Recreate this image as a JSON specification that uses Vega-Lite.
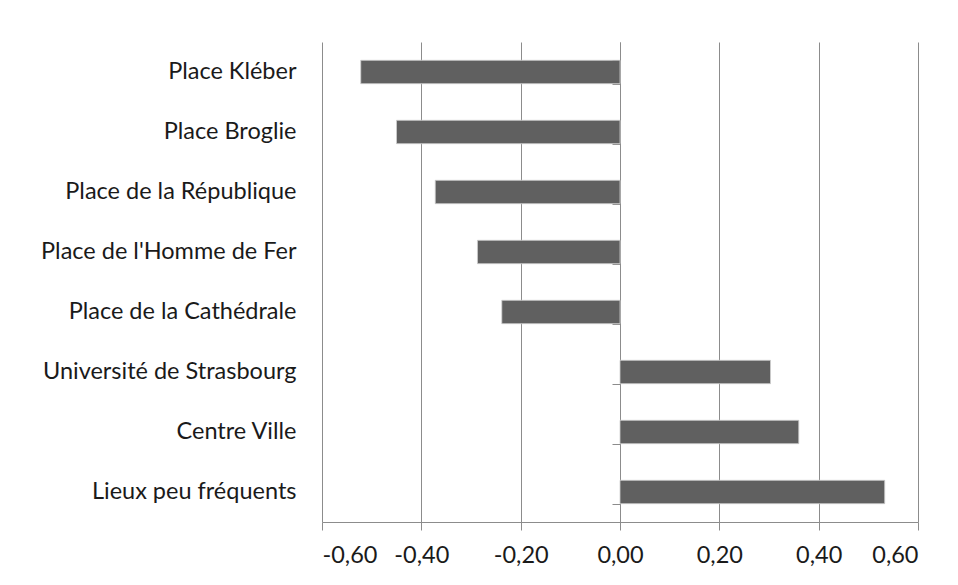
{
  "$schema": "https://vega.github.io/schema/vega-lite/v6.json",
  "width": 596,
  "height": 480,
  "autosize": {"type": "none"},
  "padding": {"left": 322, "top": 42, "right": 40, "bottom": 63},
  "background": "white",
  "config": {
    "view": {"stroke": null},
    "font": "Lato",
    "axis": {"labelFont": "Lato", "labelColor": "#1a1a1a", "labelFontSize": 23.5, "labelLimit": 0}
  },
  "data": {
    "values": [
      {"lieu": "Place Kléber", "valeur": -0.522},
      {"lieu": "Place Broglie", "valeur": -0.450},
      {"lieu": "Place de la République", "valeur": -0.372},
      {"lieu": "Place de l'Homme de Fer", "valeur": -0.287},
      {"lieu": "Place de la Cathédrale", "valeur": -0.238},
      {"lieu": "Université de Strasbourg", "valeur": 0.303},
      {"lieu": "Centre Ville", "valeur": 0.360},
      {"lieu": "Lieux peu fréquents", "valeur": 0.533}
    ]
  },
  "resolve": {"axis": {"y": "independent"}},
  "layer": [
    {
      "mark": {"type": "bar", "color": "#606060", "stroke": "#cfcfcf", "strokeWidth": 0.8},
      "encoding": {
        "y": {
          "field": "lieu", "type": "nominal", "sort": null,
          "scale": {"paddingInner": 0.61, "paddingOuter": 0.305},
          "axis": {"title": null, "ticks": false, "domain": false, "labelPadding": 26, "grid": false}
        },
        "x": {
          "field": "valeur", "type": "quantitative",
          "scale": {"domain": [-0.6, 0.6], "nice": false},
          "axis": {
            "title": null,
            "values": [-0.6, -0.4, -0.2, 0, 0.2, 0.4, 0.6],
            "labelExpr": "replace(replace(format(datum.value, '.2f'), '.', ','), '\u2212', '-')",
            "grid": true, "gridColor": "#8c8c8c", "gridWidth": 1,
            "domainColor": "#8c8c8c", "tickColor": "#8c8c8c", "tickSize": 8,
            "labelPadding": 13
          }
        }
      }
    },
    {
      "mark": {"type": "rule", "color": "#8c8c8c", "strokeWidth": 0},
      "encoding": {
        "x": {"datum": 0},
        "y": {
          "field": "lieu", "type": "nominal", "sort": null,
          "axis": {
            "orient": "right", "offset": -298, "title": null, "labels": false,
            "domain": true, "domainColor": "#8c8c8c", "domainWidth": 1,
            "ticks": true, "tickBand": "extent", "tickSize": -8, "tickColor": "#8c8c8c",
            "grid": false
          }
        }
      }
    }
  ]
}
